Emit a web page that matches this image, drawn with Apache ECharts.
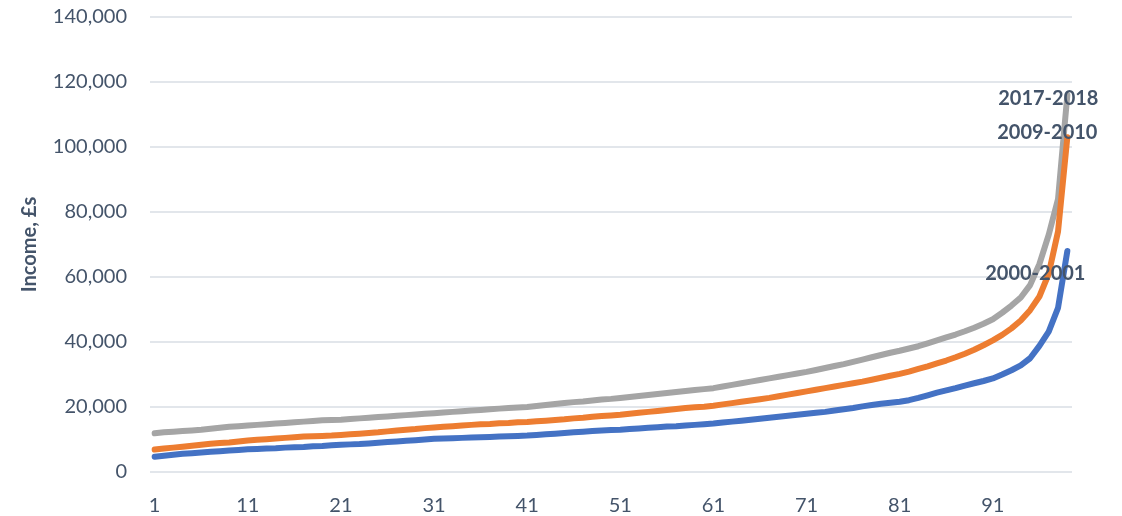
<!DOCTYPE html>
<html>
<head>
<meta charset="utf-8">
<script src="https://cdn.jsdelivr.net/npm/echarts@6/dist/echarts.min.js"></script>
<style>
html,body{margin:0;padding:0;background:#fff;}
#chart{width:1122px;height:516px;}
</style>
</head>
<body>
<div id="chart"></div>
<script>
// Percentile categories 1..99
var categories = Array.from({length: 99}, function (_, i) { return String(i + 1); });

var seriesNames = ['2000-2001', '2009-2010', '2017-2018'];

var income2000 = [
  4700, 5000, 5300, 5600, 5800, 6000, 6200, 6400, 6600, 6800,
  7000, 7100, 7200, 7300, 7500, 7600, 7700, 7900, 8000, 8200,
  8400, 8500, 8600, 8800, 9000, 9200, 9400, 9600, 9800, 10000,
  10200, 10300, 10400, 10500, 10600, 10700, 10800, 10900, 11000, 11100,
  11200, 11400, 11600, 11800, 12000, 12200, 12400, 12600, 12800, 12900,
  13000, 13200, 13400, 13600, 13800, 14000, 14100, 14300, 14500, 14700,
  14900, 15200, 15500, 15800, 16100, 16400, 16700, 17000, 17300, 17600,
  17900, 18200, 18500, 18900, 19300, 19700, 20200, 20600, 21000, 21300,
  21600, 22100, 22800, 23600, 24400, 25100, 25800, 26600, 27300, 28000,
  28800, 30000, 31300, 32800, 35000, 38800, 43200, 50500, 68000
];

var income2009 = [
  6900, 7200, 7500, 7800, 8100, 8400, 8700, 8900, 9100, 9400,
  9700, 9900, 10100, 10300, 10500, 10700, 10900, 11000, 11100, 11200,
  11400, 11600, 11800, 12000, 12200, 12500, 12800, 13000, 13200, 13500,
  13700, 13900, 14100, 14300, 14500, 14700, 14800, 15000, 15100, 15300,
  15400, 15600, 15800, 16000, 16200, 16500, 16700, 17000, 17200, 17400,
  17600, 17900, 18200, 18500, 18800, 19100, 19400, 19700, 19900, 20100,
  20400, 20800, 21200, 21600, 22000, 22400, 22800, 23300, 23800, 24300,
  24800, 25300, 25800, 26300, 26800, 27300, 27800, 28400, 29000, 29600,
  30200, 30900, 31700, 32500, 33400, 34300, 35300, 36400, 37600, 39000,
  40500, 42200, 44200, 46600, 49800, 54000, 61000, 74000, 103000
];

var income2017 = [
  11900, 12200, 12400, 12600, 12800, 13000, 13300, 13600, 13900, 14100,
  14300, 14500, 14700, 14900, 15100, 15300, 15500, 15700, 15900, 16000,
  16100, 16300, 16500, 16700, 16900, 17100, 17300, 17500, 17700, 17900,
  18100, 18300, 18500, 18700, 18900, 19100, 19300, 19500, 19700, 19850,
  20000, 20300, 20600, 20900, 21200, 21500, 21700, 22000, 22300, 22500,
  22800, 23100, 23400, 23700, 24000, 24300, 24600, 24900, 25200, 25500,
  25800, 26300, 26800, 27300, 27800, 28300, 28800, 29300, 29800, 30300,
  30800, 31400, 32000, 32600, 33200, 33900, 34600, 35300, 36000, 36700,
  37300, 38000, 38700, 39600, 40500, 41400, 42300, 43300, 44400, 45600,
  47000, 49000, 51200, 53700, 57500, 64000, 73000, 84000, 116000
];

var yTicks = { min: 0, max: 140000, interval: 20000 };

var textColor = '#44546A';
var gridColor = '#D9DEE5';
var font = 'Lato';

function endLabel(dx, dy) {
  return {
    show: true,
    formatter: '{a}',
    color: textColor,
    fontFamily: font,
    fontWeight: 'bold',
    fontSize: 20,
    align: 'center',
    verticalAlign: 'middle',
    distance: 5,
    offset: [dx, dy]
  };
}

var chart = echarts.init(document.getElementById('chart'), null, { renderer: 'canvas' });
chart.setOption({
  animation: false,
  backgroundColor: '#ffffff',
  grid: { left: 150, right: 50, top: 17, bottom: 40, containLabel: false },
  xAxis: {
    type: 'category',
    data: categories,
    boundaryGap: true,
    axisLine: { show: false },
    axisTick: { show: false },
    axisLabel: {
      interval: 9,
      color: textColor,
      fontFamily: font,
      fontSize: 20,
      margin: 24
    },
    splitLine: { show: false }
  },
  yAxis: {
    type: 'value',
    min: yTicks.min,
    max: yTicks.max,
    interval: yTicks.interval,
    name: 'Income, £s',
    nameLocation: 'middle',
    nameGap: 110,
    nameRotate: 90,
    nameTextStyle: { color: textColor, fontFamily: font, fontWeight: 'bold', fontSize: 20 },
    axisLine: { show: false },
    axisTick: { show: false },
    axisLabel: {
      color: textColor,
      fontFamily: font,
      fontSize: 20,
      margin: 23,
      formatter: function (v) { return v.toLocaleString('en-US'); }
    },
    splitLine: { show: true, lineStyle: { color: gridColor, width: 1.5 } }
  },
  series: [
    {
      name: seriesNames[0], type: 'line', data: income2000, showSymbol: false, symbol: 'none',
      lineStyle: { color: '#4472C4', width: 6, cap: 'round', join: 'round' },
      itemStyle: { color: '#4472C4' },
      endLabel: endLabel(-37, 23), z: 3
    },
    {
      name: seriesNames[1], type: 'line', data: income2009, showSymbol: false, symbol: 'none',
      lineStyle: { color: '#ED7D31', width: 6, cap: 'round', join: 'round' },
      itemStyle: { color: '#ED7D31' },
      endLabel: endLabel(-25, -5), z: 2
    },
    {
      name: seriesNames[2], type: 'line', data: income2017, showSymbol: false, symbol: 'none',
      lineStyle: { color: '#A5A5A5', width: 6, cap: 'round', join: 'round' },
      itemStyle: { color: '#A5A5A5' },
      endLabel: endLabel(-24, 4), z: 1
    }
  ]
});
</script>
</body>
</html>
